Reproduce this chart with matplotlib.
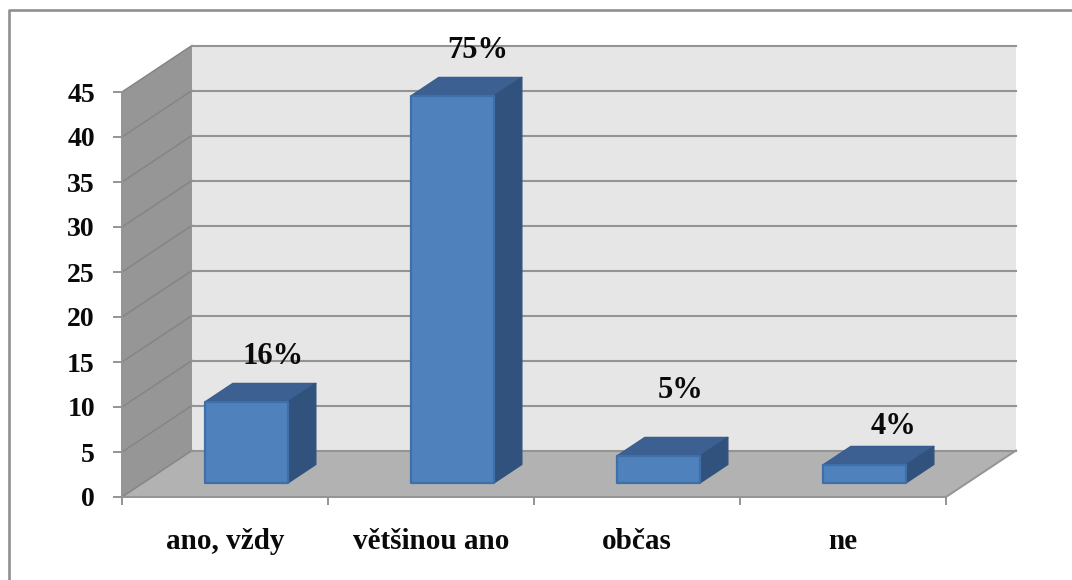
import matplotlib
matplotlib.use('Agg')
import matplotlib.pyplot as plt
from matplotlib.lines import Line2D
from matplotlib.patches import Polygon

categories = ['ano, vždy', 'většinou ano', 'občas', 'ne']
counts = [9, 43, 3, 2]
percent_labels = ['16%', '75%', '5%', '4%']
value_ticks = [0, 5, 10, 15, 20, 25, 30, 35, 40, 45]

W, H = 1072, 580
LEFT, RIGHT, BASE, TOP = 122, 946, 497, 92

# depth of the box, in data units per unit of depth
DX = 70 / 206
DY = 46.5 / 9

GRID = '#949494'
SIDE_GRID = '#858585'
TEXT = '#0a0a0a'

plt.rcParams['font.family'] = ['Liberation Serif', 'DejaVu Serif']
plt.rcParams['font.weight'] = 'bold'

fig = plt.figure(figsize=(W / 100, H / 100), dpi=100)
ax = fig.add_axes([LEFT / W, 1 - BASE / H, (RIGHT - LEFT) / W, (BASE - TOP) / H])
ax.set_xlim(0, len(categories))
ax.set_ylim(0, 45)
ax.patch.set_visible(False)


def pt(c, d, v):
    # category position, depth 0..1 and value to data coordinates
    return (c + d * DX, v + d * DY)


def face(points, color, edge='none', lw=0, z=1):
    ax.add_patch(Polygon(points, closed=True, facecolor=color, edgecolor=edge,
                         linewidth=lw, clip_on=False, zorder=z, joinstyle='round'))


n = len(categories)

# walls and floor
face([pt(0, 0, 0), pt(0, 1, 0), pt(0, 1, 45), pt(0, 0, 45)], '#969696')
face([pt(0, 1, 0), pt(n, 1, 0), pt(n, 1, 45), pt(0, 1, 45)], '#e6e6e6')
face([pt(0, 0, 0), pt(n, 0, 0), pt(n, 1, 0), pt(0, 1, 0)], '#b2b2b2')

# gridlines run along the back wall and down the side wall
for v in value_ticks:
    xs, ys = zip(pt(0, 0, v), pt(0, 1, v))
    ax.plot(xs, ys, color=SIDE_GRID, lw=1.1, clip_on=False, zorder=2)
    xs, ys = zip(pt(0, 1, v), pt(n, 1, v))
    ax.plot(xs, ys, color=GRID, lw=1.5, clip_on=False, zorder=2)
xs, ys = zip(pt(n, 0, 0), pt(n, 1, 0))
ax.plot(xs, ys, color=GRID, lw=1.4, clip_on=False, zorder=2)

# bars
BAR_X = 0.30
BAR_W = 0.403
D0, D1 = 0.3, 0.7
for i, v in enumerate(counts):
    x0, x1 = i + BAR_X, i + BAR_X + BAR_W
    face([pt(x0, D0, v), pt(x1, D0, v), pt(x1, D1, v), pt(x0, D1, v)], '#3b6091',
         '#3a5f8e', 1, 3)
    face([pt(x1, D0, 0), pt(x1, D1, 0), pt(x1, D1, v), pt(x1, D0, v)], '#31527c',
         '#31527c', 1, 3)
    face([pt(x0, D0, 0), pt(x1, D0, 0), pt(x1, D0, v), pt(x0, D0, v)], '#4f81bd',
         '#3f6fa8', 1.6, 4)

# percentage labels sit off the bars by hand-set offsets (points)
label_offsets = [(19, 33), (18, 33), (16, 47), (21, 28)]
for i, (v, lab) in enumerate(zip(counts, percent_labels)):
    ax.annotate(lab, xy=pt(i + BAR_X + BAR_W / 2, D0, v), xytext=label_offsets[i],
                textcoords='offset points', ha='center', va='center',
                fontsize=22, color=TEXT, zorder=6, annotation_clip=False)

# axes
for s in ['top', 'right']:
    ax.spines[s].set_visible(False)
for s in ['left', 'bottom']:
    ax.spines[s].set_color(GRID)
    ax.spines[s].set_linewidth(1.4)
    ax.spines[s].set_zorder(5)
ax.set_yticks(value_ticks)
ax.set_xticks(range(n + 1))
ax.set_xticklabels([])
ax.set_xticks([i + 0.5 for i in range(n)], minor=True)
ax.set_xticklabels(categories, minor=True)
ax.tick_params(axis='y', length=6.5, width=1.4, color=GRID, pad=13, labelsize=20,
               labelcolor=TEXT)
ax.tick_params(axis='x', which='major', length=6, width=1.4, color=GRID)
ax.tick_params(axis='x', which='minor', length=0, pad=22.5, labelsize=21,
               labelcolor=TEXT)

# chart frame only shows along the top and left
frame_x = [8.5 / W, 8.5 / W, 1]
frame_y = [0, 1 - 9.5 / H, 1 - 9.5 / H]
fig.add_artist(Line2D(frame_x, frame_y, transform=fig.transFigure, color='#8f8f8f',
                      linewidth=1.9))

fig.savefig('out.png', dpi=100)
